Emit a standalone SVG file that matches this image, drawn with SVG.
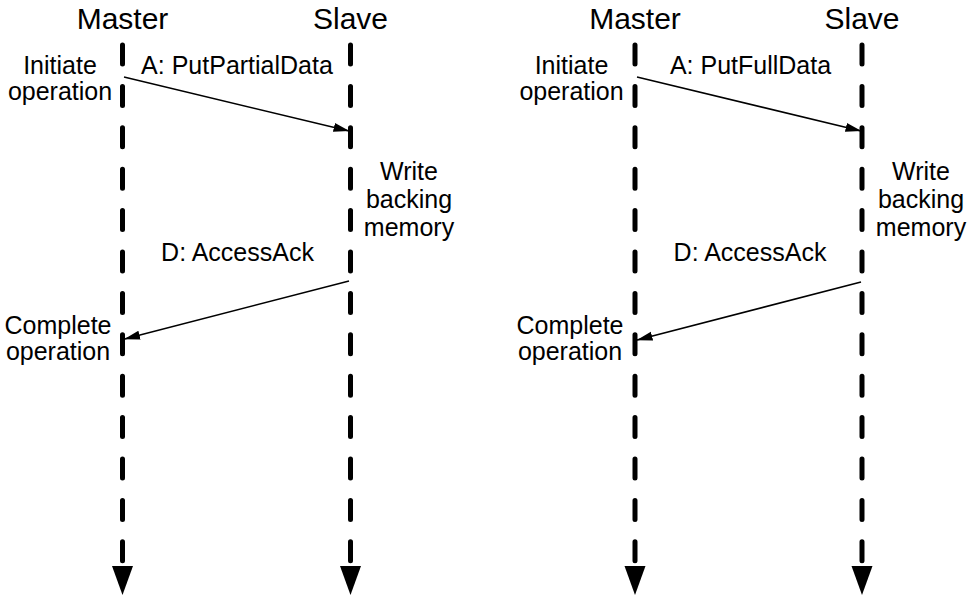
<svg xmlns="http://www.w3.org/2000/svg" width="969" height="597" viewBox="0 0 969 597">
  <style>
    .hdr { font-family: "Liberation Sans", Arial, sans-serif; font-size: 30px; fill: #000; text-anchor: middle; }
    .lbl { font-family: "Liberation Sans", Arial, sans-serif; font-size: 25px; fill: #000; text-anchor: middle; }
    .life { fill: none; stroke: #000; stroke-width: 5; stroke-dasharray: 19 22.4; stroke-linecap: round; }
    .msg { fill: none; stroke: #000; stroke-width: 1.5; }
  </style>
  <defs>
    <marker id="lifeHead" markerUnits="userSpaceOnUse" viewBox="0 -11 30 22" markerWidth="30" markerHeight="22" refX="0" refY="0" orient="auto">
      <path d="M0,-10.5 L29,0 L0,10.5 Z" fill="#000"/>
    </marker>
    <marker id="msgHead" markerUnits="userSpaceOnUse" viewBox="0 0 16 10" markerWidth="16" markerHeight="10" refX="15.5" refY="5" orient="auto">
      <path d="M0,0.5 L16,5 L0,9.5 Z" fill="#000"/>
    </marker>
  </defs>

  <!-- Left diagram -->
  <g id="master-left">
    <text class="hdr" x="122.5" y="28.5">Master</text>
    <path class="life" d="M122.5,45 L122.5,566" marker-end="url(#lifeHead)"/>
  </g>
  <g id="slave-left">
    <text class="hdr" x="350.5" y="28.5">Slave</text>
    <path class="life" d="M350.5,45 L350.5,566" marker-end="url(#lifeHead)"/>
  </g>
  <g id="initiate-left">
    <text class="lbl" x="60" y="73.5">Initiate</text>
    <text class="lbl" x="60" y="100">operation</text>
  </g>
  <g id="write-left">
    <text class="lbl" x="409" y="180">Write</text>
    <text class="lbl" x="409" y="208">backing</text>
    <text class="lbl" x="409" y="236">memory</text>
  </g>
  <g id="complete-left">
    <text class="lbl" x="58" y="334">Complete</text>
    <text class="lbl" x="58" y="360">operation</text>
  </g>

  <!-- Right diagram -->
  <g id="master-right">
    <text class="hdr" x="635" y="28.5">Master</text>
    <path class="life" d="M635,45 L635,566" marker-end="url(#lifeHead)"/>
  </g>
  <g id="slave-right">
    <text class="hdr" x="862" y="28.5">Slave</text>
    <path class="life" d="M862,45 L862,566" marker-end="url(#lifeHead)"/>
  </g>
  <g id="initiate-right">
    <text class="lbl" x="571.5" y="73.5">Initiate</text>
    <text class="lbl" x="571.5" y="100">operation</text>
  </g>
  <g id="write-right">
    <text class="lbl" x="921" y="180">Write</text>
    <text class="lbl" x="921" y="208">backing</text>
    <text class="lbl" x="921" y="236">memory</text>
  </g>
  <g id="complete-right">
    <text class="lbl" x="570" y="334">Complete</text>
    <text class="lbl" x="570" y="360">operation</text>
  </g>

  <!-- Connectors -->
  <g id="connectors">
    <line class="msg" x1="124" y1="77" x2="349" y2="131" marker-end="url(#msgHead)"/>
    <text class="lbl" x="237" y="74">A: PutPartialData</text>
    <line class="msg" x1="349" y1="281" x2="124.5" y2="339" marker-end="url(#msgHead)"/>
    <text class="lbl" x="237.5" y="260.5">D: AccessAck</text>

    <line class="msg" x1="637" y1="77" x2="861" y2="131" marker-end="url(#msgHead)"/>
    <text class="lbl" x="750.5" y="74">A: PutFullData</text>
    <line class="msg" x1="861" y1="282" x2="637" y2="340" marker-end="url(#msgHead)"/>
    <text class="lbl" x="750" y="260.5">D: AccessAck</text>
  </g>
</svg>
